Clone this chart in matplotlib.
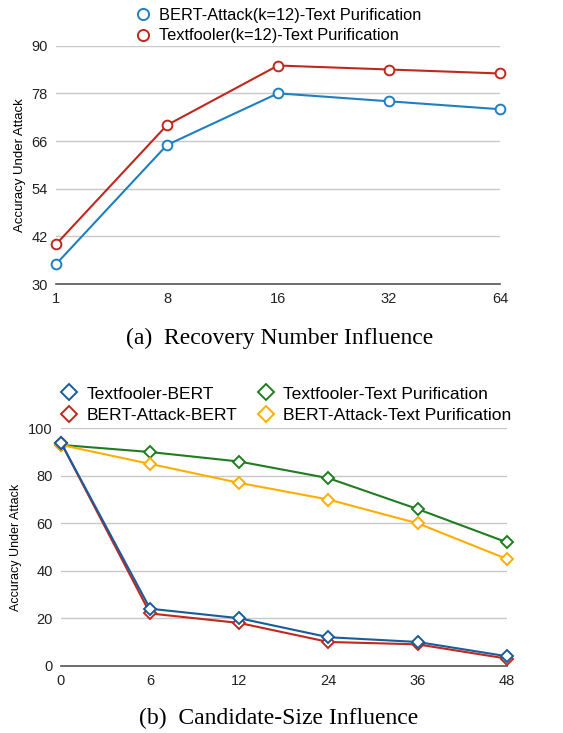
import matplotlib
matplotlib.use('Agg')
import matplotlib.pyplot as plt
from matplotlib.lines import Line2D

# top chart data
rec_labels = ['1', '8', '16', '32', '64']
bert_tp = [35, 65, 78, 76, 74]
tf_tp = [40, 70, 85, 84, 83]

# bottom chart data
cand_labels = ['0', '6', '12', '24', '36', '48']
tf_bert = [94, 24, 20, 12, 10, 4]
ba_bert = [94, 22, 18, 10, 9, 3]
tf_pur = [93, 90, 86, 79, 66, 52]
ba_pur = [93, 85, 77, 70, 60, 45]

plt.rcParams['font.family'] = ['Liberation Sans', 'DejaVu Sans']

fig = plt.figure(figsize=(5.63, 7.33), dpi=100)

def style(ax, yticks, ylfs):
    ax.set_yticks(yticks)
    ax.set_ylim(yticks[0], yticks[-1])
    for s in ['top', 'right', 'left']:
        ax.spines[s].set_visible(False)
    ax.spines['bottom'].set_color('#555555')
    ax.spines['bottom'].set_linewidth(1.2)
    ax.grid(axis='y', color='#c8c8c8', linewidth=1)
    ax.set_axisbelow(True)
    ax.tick_params(length=0, labelsize=10.5, colors='#222222', pad=6)
    ax.set_ylabel('Accuracy Under Attack', fontsize=ylfs, labelpad=4)

def proxy(c, m, ms):
    return Line2D([], [], color=c, marker=m, mfc='white', mew=1.4, ms=ms, ls='none')

# (a)
ax1 = fig.add_axes([0.0995, 0.6125, 0.7885, 0.3252])
x = range(len(rec_labels))
ax1.plot(x, bert_tp, color='#1f7fc0', marker='o', mfc='white', mew=1.4, ms=7,
         lw=1.5, clip_on=False, zorder=3)
ax1.plot(x, tf_tp, color='#c0281e', marker='o', mfc='white', mew=1.4, ms=7,
         lw=1.5, clip_on=False, zorder=3)
ax1.set_xticks(list(x))
ax1.set_xticklabels(rec_labels)
ax1.set_xlim(0, len(rec_labels) - 1)
style(ax1, [30, 42, 54, 66, 78, 90], 9.5)
ax1.legend([proxy('#1f7fc0', 'o', 8), proxy('#c0281e', 'o', 8)],
           ['BERT-Attack(k=12)-Text Purification', 'Textfooler(k=12)-Text Purification'],
           loc='lower center', bbox_to_anchor=(0.5, 0.975), frameon=False,
           fontsize=11.8, handlelength=1.0, handletextpad=0.5, labelspacing=0.35,
           borderaxespad=0.1)
fig.text(0.496, 1 - 338 / 733, '(a)  Recovery Number Influence', ha='center', va='center',
         fontsize=17, family=['Liberation Serif', 'DejaVu Serif'])

# (b)
ax2 = fig.add_axes([0.1083, 0.0918, 0.7917, 0.3239])
x2 = range(len(cand_labels))
kw = dict(marker='D', mfc='white', mew=1.4, ms=6.5, lw=1.5, clip_on=False)
ax2.plot(x2, tf_pur, color='#1f7d1f', zorder=3, **kw)
ax2.plot(x2, ba_pur, color='#ffae00', zorder=3, **kw)
ax2.plot(x2, ba_bert, color='#c0281e', zorder=4, **kw)
ax2.plot(x2, tf_bert, color='#1a5c9a', zorder=5, **kw)
ax2.set_xticks(list(x2))
ax2.set_xticklabels(cand_labels)
ax2.set_xlim(0, len(cand_labels) - 1)
style(ax2, [0, 20, 40, 60, 80, 100], 9)
ax2.legend([proxy('#1a5c9a', 'D', 8), proxy('#c0281e', 'D', 8),
            proxy('#1f7d1f', 'D', 8), proxy('#ffae00', 'D', 8)],
           ['Textfooler-BERT', 'BERT-Attack-BERT',
            'Textfooler-Text Purification', 'BERT-Attack-Text Purification'],
           ncol=2, loc='lower center', bbox_to_anchor=(0.505, 0.987), frameon=False,
           fontsize=12.6, handlelength=1.0, handletextpad=0.5, labelspacing=0.33,
           columnspacing=1.1, borderaxespad=0.1)
fig.text(0.495, 1 - 718 / 733, '(b)  Candidate-Size Influence', ha='center', va='center',
         fontsize=17, family=['Liberation Serif', 'DejaVu Serif'])

fig.savefig('out.png', dpi=100)
